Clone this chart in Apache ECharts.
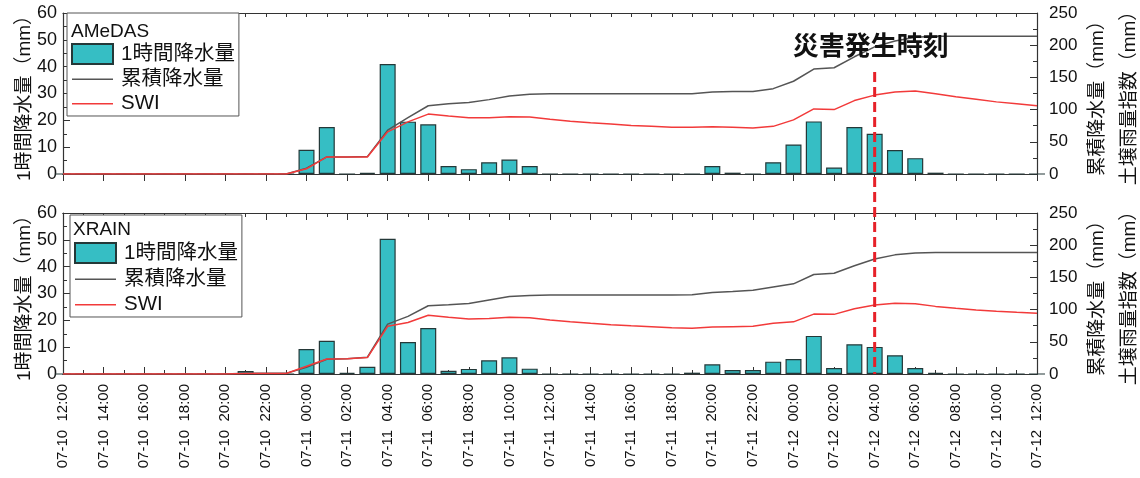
<!DOCTYPE html>
<html><head><meta charset="utf-8">
<script src="https://cdn.jsdelivr.net/npm/echarts@6/dist/echarts.min.js"></script>
<style>html,body{margin:0;padding:0;background:#fff}#c{width:1140px;height:478px}</style>
</head><body><div id="c"></div>
<script>
const categories = [
 '07-10  12:00','07-10  13:00','07-10  14:00','07-10  15:00','07-10  16:00','07-10  17:00','07-10  18:00','07-10  19:00','07-10  20:00','07-10  21:00','07-10  22:00','07-10  23:00',
 '07-11  00:00','07-11  01:00','07-11  02:00','07-11  03:00','07-11  04:00','07-11  05:00','07-11  06:00','07-11  07:00','07-11  08:00','07-11  09:00','07-11  10:00','07-11  11:00',
 '07-11  12:00','07-11  13:00','07-11  14:00','07-11  15:00','07-11  16:00','07-11  17:00','07-11  18:00','07-11  19:00','07-11  20:00','07-11  21:00','07-11  22:00','07-11  23:00',
 '07-12  00:00','07-12  01:00','07-12  02:00','07-12  03:00','07-12  04:00','07-12  05:00','07-12  06:00','07-12  07:00','07-12  08:00','07-12  09:00','07-12  10:00','07-12  11:00','07-12  12:00'
];
const amedasRain = [0,0,0,0,0,0,0,0,0,0,0,0, 9,17.5,0,0.4,41,19.5,18.5,3,1.8,4.4,5.4,3, 0,0,0,0,0,0,0,0, 3,0.5,0,4.4, 11,19.6,2.4,17.5,15,8.9,5.9,0.5, 0,0,0,0,0];
const amedasCum = [0,0,0,0,0,0,0,0,0,0,0,0, 9,26.5,26.5,27,68,87.5,106,109,111,115.5,121,124, 124.5,124.5,124.5,124.5,124.5,124.5,124.5,124.5, 127.5,128,128,132.5, 144,163,165,182,197.5,206.5,212.5,214, 214,214,214,214,214];
const amedasSwi = [0,0,0,0,0,0,0,0,0,0,0,0, 8,26.5,26.5,26.5,65.5,81,93,90,87.5,87.5,89,88.5, 85,82,79.5,77.5,75.5,74,72.5,72.5, 73.5,72.5,71.5,74, 84,101,100,114,122.5,127.5,129,124.5, 120,116,112,109,106];
const xrainRain = [0,0,0,0,0,0,0,0,0,1.1,0,0, 9.3,12.4,0.4,2.7,50.4,11.9,17.1,1.2,1.9,5.1,6.2,2.0, 0,0,0,0,0,0,0,0.5, 3.6,1.5,1.5,4.6, 5.6,14.2,2.2,11.1,10.1,7.0,2.2,0.4, 0,0,0,0,0];
const xrainCum = [0,0,0,0,0,0,0,0,0,1,1,1, 10.5,23,23.5,26,77.5,89.5,106,107.5,109.5,115,120.5,122, 122.5,122.5,122.5,122.5,122.5,122.5,122.5,123, 126.5,128,130,135, 140,154.5,156.5,168,178.5,185,188,188.5, 188.5,188.5,188.5,188.5,188.5];
const xrainSwi = [0,0,0,0,0,0,0,0,0,0.8,0.8,0.7, 12,23.3,23.5,25.5,74,80,91.3,88.3,85.5,86,88,87.5, 84,81.3,78.7,76.6,75,73.5,72,71, 73,73.5,74,78.7, 81,93,92.6,101.4,107,110,109,105, 102,99.4,97.3,95.7,94.2];
const panelTitles = ['AMeDAS','XRAIN'];
const seriesNames = ['1時間降水量','累積降水量','SWI'];
const leftAxisName = '1時間降水量（mm）';
const rightAxisName = '累積降水量（mm）\n土壌雨量指数（mm）';
const disasterTime = '07-12  04:00';
const disasterLabel = '災害発生時刻';

const FONT = "'Liberation Sans','Noto Sans CJK JP',sans-serif";
const AX = '#333';
const BAR = '#36BEC4';
const TXT = '#111';
const LINE_ICON = 'path://M0,0H40V1.6H0Z';

function xAxesFor(g, showLabels) {
  const base = {type:'category', gridIndex:g, data:categories, boundaryGap:false,
    axisLine:{show:true, lineStyle:{color:AX, width:1.2}}, splitLine:{show:false}, axisLabel:{show:false}};
  const tick = (interval, length) => ({show:true, inside:true, interval:interval, length:length, lineStyle:{color:AX, width:1}});
  const axes = [];
  if (showLabels) {
    axes.push(Object.assign({}, base, {position:'bottom', axisTick:tick(1,7),
      axisLabel:{show:true, interval:1, rotate:90, fontSize:15, color:TXT, fontFamily:FONT, margin:10}}));
    axes.push(Object.assign({}, base, {position:'bottom', axisTick:tick(0,4)}));
  } else {
    axes.push(Object.assign({}, base, {position:'bottom', axisTick:{show:false}}));
  }
  axes.push(Object.assign({}, base, {position:'top', axisTick:tick(1,7)}));
  axes.push(Object.assign({}, base, {position:'top', axisTick:tick(0,4)}));
  return axes;
}
function yAxesFor(g) {
  return [
    {type:'value', gridIndex:g, position:'left', min:0, max:60, interval:10,
     axisLine:{show:true, lineStyle:{color:AX, width:1.2}},
     axisTick:{show:true, inside:true, length:7, lineStyle:{color:AX}},
     minorTick:{show:true, splitNumber:2, length:4, lineStyle:{color:AX}},
     splitLine:{show:false},
     axisLabel:{fontSize:18, color:TXT, fontFamily:FONT, margin:6},
     name:leftAxisName, nameLocation:'middle', nameRotate:90, nameGap:28, nameMoveOverlap:false,
     nameTextStyle:{fontSize:19, color:TXT, fontFamily:FONT, lineHeight:20}},
    {type:'value', gridIndex:g, position:'right', min:0, max:250, interval:50,
     axisLine:{show:true, lineStyle:{color:AX, width:1.2}},
     axisTick:{show:true, inside:true, length:7, lineStyle:{color:AX}},
     minorTick:{show:true, splitNumber:2, length:4, lineStyle:{color:AX}},
     splitLine:{show:false},
     axisLabel:{fontSize:17, color:TXT, fontFamily:FONT, margin:12},
     name:rightAxisName, nameLocation:'middle', nameRotate:90, nameGap:45, nameMoveOverlap:false,
     nameTextStyle:{fontSize:19, color:TXT, fontFamily:FONT, lineHeight:32}}
  ];
}
const xAxes = xAxesFor(0,false).concat(xAxesFor(1,true));
// grid0: 0 bottom,1 top,2 top ; grid1: 3 bottom(labels),4 bottom,5 top,6 top
const yAxes = yAxesFor(0).concat(yAxesFor(1));

function seriesFor(xi, yl, yr, rain, cum, swi) {
  return [
    {type:'bar', name:seriesNames[0], xAxisIndex:xi, yAxisIndex:yl, data:rain, barWidth:16,
     itemStyle:{color:BAR, borderColor:'#243838', borderWidth:1.2}, z:2},
    {type:'line', name:seriesNames[1], xAxisIndex:xi, yAxisIndex:yr, data:cum, symbol:'none', color:'#555',
     itemStyle:{color:'#555'}, lineStyle:{color:'#555', width:1.5}, z:3},
    {type:'line', name:seriesNames[2], xAxisIndex:xi, yAxisIndex:yr, data:swi, symbol:'none', color:'#F23A3A',
     itemStyle:{color:'#F23A3A'}, lineStyle:{color:'#F23A3A', width:1.5}, z:4}
  ];
}
function legendFor(left, top, padTop, gap) {
  return {orient:'vertical', left:left, top:top, padding:[padTop,4,2,4], itemWidth:41, itemHeight:20, itemGap:gap,
    borderColor:'#555', borderWidth:1, backgroundColor:'#fff', selectedMode:false,
    textStyle:{fontSize:20.5, color:TXT, fontFamily:FONT, lineHeight:20, padding:[0,0,0,3]},
    data:[{name:seriesNames[0], icon:'rect'}, {name:seriesNames[1], icon:LINE_ICON}, {name:seriesNames[2], icon:LINE_ICON}]};
}

const chart = echarts.init(document.getElementById('c'), null, {renderer:'canvas'});
chart.setOption({
  animation:false,
  backgroundColor:'#fff',
  textStyle:{fontFamily:FONT},
  grid:[{left:63, right:103, top:13, height:161, containLabel:false, outerBoundsMode:'none'},
        {left:63, right:103, top:213, height:161, containLabel:false, outerBoundsMode:'none'}],
  xAxis:xAxes,
  yAxis:yAxes,
  title:[
    {text:panelTitles[0], left:71, top:22, padding:0, textStyle:{fontSize:19, fontWeight:'normal', color:TXT, fontFamily:FONT}},
    {text:panelTitles[1], left:73, top:220, padding:0, textStyle:{fontSize:19, fontWeight:'normal', color:TXT, fontFamily:FONT}}
  ],
  legend:[legendFor(67,13,30,4), legendFor(70,215,27,5)],
  series: seriesFor(0,0,1,amedasRain,amedasCum,amedasSwi).concat(seriesFor(3,2,3,xrainRain,xrainCum,xrainSwi))
});

const lx = chart.convertToPixel({xAxisIndex:0}, disasterTime);
const yTop = chart.convertToPixel({yAxisIndex:0}, 38);
const yBot = chart.convertToPixel({yAxisIndex:2}, 0);
const yText = chart.convertToPixel({yAxisIndex:0}, 48);
chart.setOption({
  graphic:[
    {type:'line', z:100, shape:{x1:lx, y1:yTop, x2:lx, y2:yBot},
     style:{stroke:'#E62129', lineWidth:3, lineDash:[10,5]}},
    {type:'text', z:100, x:lx-4, y:yText,
     style:{text:disasterLabel, font:'bold 26px "Noto Sans CJK JP"', fill:TXT, align:'center', verticalAlign:'middle', textAlign:'center', textVerticalAlign:'middle'}}
  ]
});
</script>
</body></html>
